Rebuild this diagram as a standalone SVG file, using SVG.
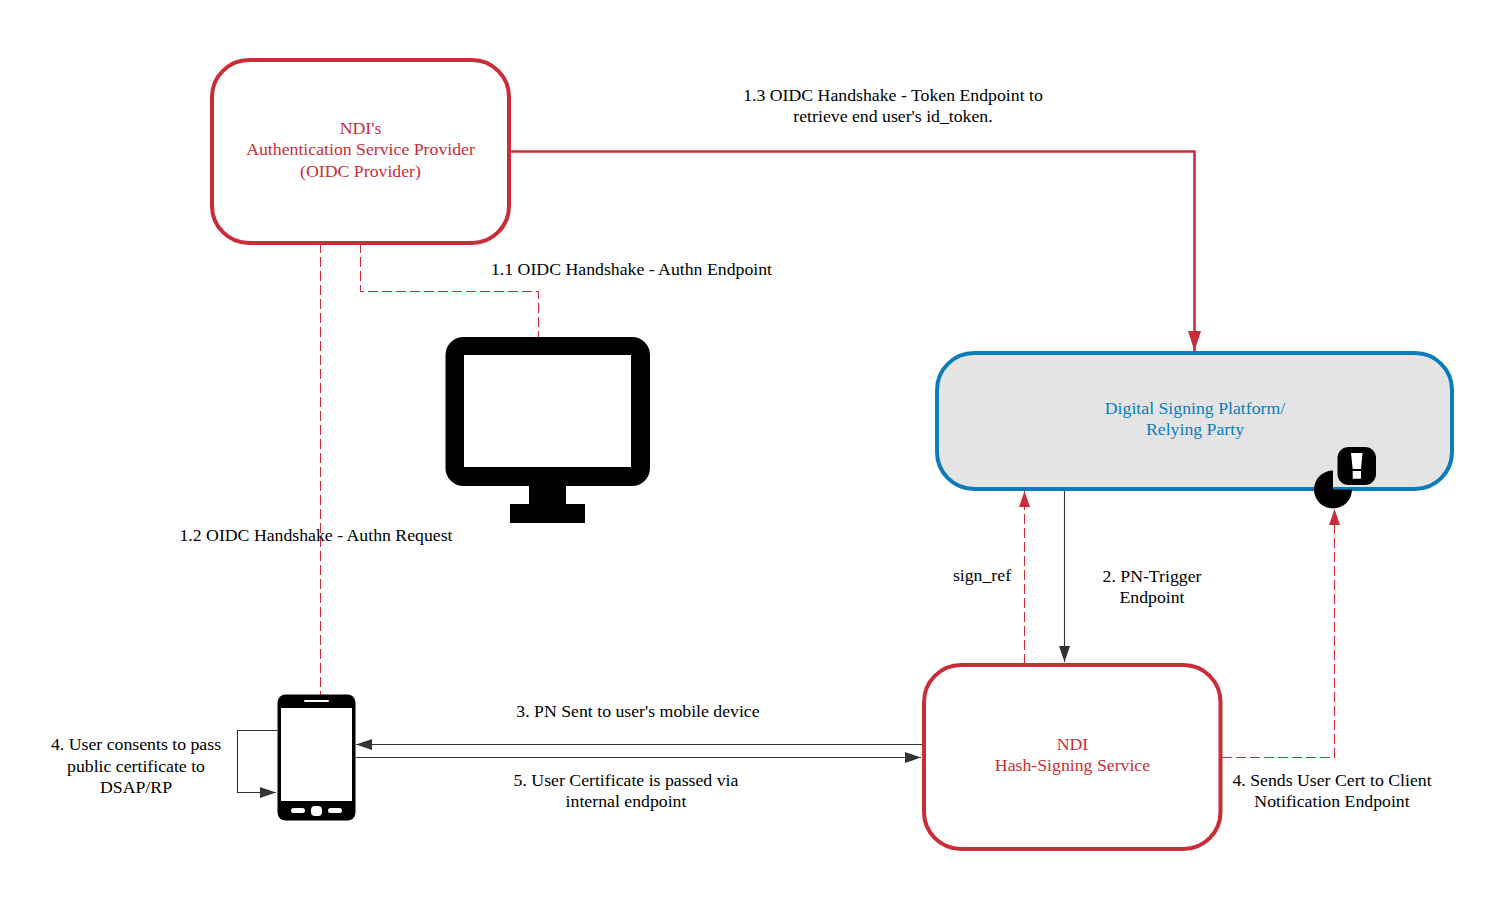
<svg xmlns="http://www.w3.org/2000/svg" width="1503" height="903" viewBox="0 0 1503 903">
<style>
text{font-family:"Liberation Serif","Times New Roman",serif;font-size:17.75px;fill:#000;text-anchor:middle}
.red{fill:#c92d39}.blue{fill:#0c7cba}
.box{stroke-width:4;fill:#fff}
.rb{stroke:#c92d39}
.c{fill:none;stroke-width:1.100}
.rd{stroke:#c92d39;stroke-dasharray:10 4}
.dk{stroke:#333}
</style>
<defs>
<marker id="ar" markerUnits="userSpaceOnUse" markerWidth="17" markerHeight="12" refX="16" refY="5.500" orient="auto"><path d="M0 0L16 5.500L0 11Z" fill="#c92d39"/></marker>
<marker id="ars" markerUnits="userSpaceOnUse" markerWidth="21" markerHeight="14" refX="20" refY="6.500" orient="auto"><path d="M0 0L20 6.500L0 13Z" fill="#c92d39"/></marker>
<marker id="ad" markerUnits="userSpaceOnUse" markerWidth="17" markerHeight="12" refX="16" refY="5.500" orient="auto"><path d="M0 0L16 5.500L0 11Z" fill="#333"/></marker>
</defs>
<rect width="1503" height="903" fill="#fff"/>
<g id="connectors">
<path class="c rd" d="M320.500 243V695"/>
<path class="c rd" d="M360.500 243V291.500H538.500V337"/>
<path d="M510 151.500H1194.500V351" fill="none" stroke="#c92d39" stroke-width="2.500" marker-end="url(#ars)"/>
<path class="c rd" d="M1024.500 664V491" marker-end="url(#ar)"/>
<path class="c dk" d="M1064.500 490V662" marker-end="url(#ad)"/>
<path class="c rd" d="M1222 757.500H1334.500V509" marker-end="url(#ar)"/>
<path class="c dk" d="M922 744.500H356" marker-end="url(#ad)"/>
<path class="c dk" d="M356 757.500H921" marker-end="url(#ad)"/>
<path class="c dk" d="M277 730.500H237.500V792.500H276" marker-end="url(#ad)"/>
</g>
<g id="oidc-provider">
<rect class="box rb" x="212" y="60" width="297" height="183" rx="37"/>
<text class="red" x="360.500" y="134">NDI's</text>
<text class="red" x="360.500" y="155">Authentication Service Provider</text>
<text class="red" x="360.500" y="176.500">(OIDC Provider)</text>
</g>
<g id="signing-platform">
<rect x="937" y="353" width="515" height="136" rx="37" fill="#e4e4e4" stroke="#0c7cba" stroke-width="4"/>
<text class="blue" x="1195" y="413.500">Digital Signing Platform/</text>
<text class="blue" x="1195" y="435">Relying Party</text>
</g>
<g id="warning-icon">
<path d="M1333 470.500V489.500H1352A19 19 0 1 1 1333 470.500Z" fill="#000"/>
<rect x="1337.500" y="447" width="38.500" height="38" rx="11" fill="#000"/>
<path d="M1351 453H1362.500L1361 469H1352.700ZM1352.700 471H1361V478.700H1352.700Z" fill="#fff"/>
</g>
<g id="hash-signing">
<rect class="box rb" x="924" y="665" width="296.500" height="184" rx="37"/>
<text class="red" x="1072.500" y="749.500">NDI</text>
<text class="red" x="1072.500" y="771">Hash-Signing Service</text>
</g>
<g id="monitor">
<rect x="445.500" y="337" width="204.500" height="149" rx="18" fill="#000"/>
<rect x="464" y="355" width="167" height="112" fill="#fff"/>
<path d="M529 486H566V504H585V523H510V504H529Z" fill="#000"/>
</g>
<g id="phone">
<rect x="277.500" y="694.500" width="78" height="126" rx="8" fill="#000"/>
<rect x="281" y="708" width="71" height="93" fill="#fff"/>
<rect x="304" y="700" width="25" height="2" rx="1" fill="#fff"/>
<rect x="291" y="808" width="14" height="5" rx="2.500" fill="#fff"/>
<rect x="328" y="808" width="14" height="5" rx="2.500" fill="#fff"/>
<rect x="311" y="806" width="11" height="10" rx="4" fill="#fff"/>
</g>
<g id="labels">
<text x="893" y="101">1.3 OIDC Handshake - Token Endpoint to</text>
<text x="893" y="122">retrieve end user's id_token.</text>
<text x="631.500" y="275">1.1 OIDC Handshake - Authn Endpoint</text>
<text x="316" y="540.500">1.2 OIDC Handshake - Authn Request</text>
<text x="982" y="580.500">sign_ref</text>
<text x="1152" y="582">2. PN-Trigger</text>
<text x="1152" y="603">Endpoint</text>
<text x="638" y="716.500">3. PN Sent to user's mobile device</text>
<text x="626" y="786">5. User Certificate is passed via</text>
<text x="626" y="807">internal endpoint</text>
<text x="136" y="750">4. User consents to pass</text>
<text x="136" y="771.500">public certificate to</text>
<text x="136" y="792.500">DSAP/RP</text>
<text x="1332" y="786">4. Sends User Cert to Client</text>
<text x="1332" y="807">Notification Endpoint</text>
</g>
</svg>
